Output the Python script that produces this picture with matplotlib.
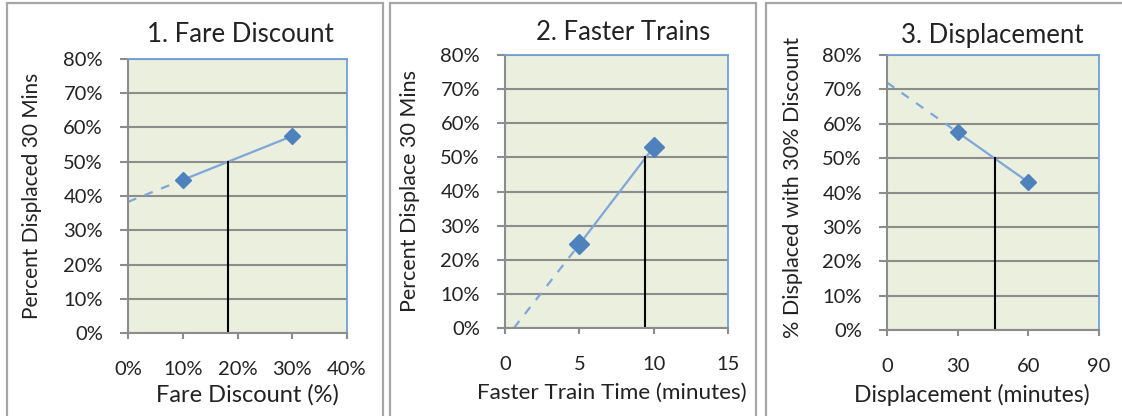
## three small excel-style panels: break-even points for displacement
import matplotlib
matplotlib.use('Agg')
import matplotlib.pyplot as plt
from matplotlib.patches import Rectangle
from matplotlib.ticker import FuncFormatter

plt.rcParams['font.family'] = ['Lato', 'DejaVu Sans']

W, H = 1122, 416

# panel 1 - fare discount
fare_x = [10, 30]
fare_y = [44.7, 57.5]
fare_trend_x = [0, 10]
fare_trend_y = [38.3, 44.7]
fare_cut = 18.3

# panel 2 - faster trains
train_x = [5, 10]
train_y = [24.5, 53.0]
train_trend_x = [0.6, 5]
train_trend_y = [0, 24.5]
train_cut = 9.45

# panel 3 - displacement
disp_x = [30, 60]
disp_y = [57.5, 43.0]
disp_trend_x = [0, 30]
disp_trend_y = [72.0, 57.5]
disp_cut = 45.7

y_ticks = [0, 10, 20, 30, 40, 50, 60, 70, 80]

GRID = '#8c8c8c'
EDGE = '#6f9fd8'
LINE = '#7fa6d9'
MARK = '#4f81bd'
BG = '#ebefde'
TXT = '#222222'

fig = plt.figure(figsize=(W / 100, H / 100), dpi=100)

# panel frames
for left, right in [(7, 383), (390, 756), (766, 1130)]:
    fig.patches.append(Rectangle((left / W, -0.1), (right - left) / W, 1.1 - 3 / H,
                                 transform=fig.transFigure, fill=False,
                                 edgecolor='#a6a6a6', linewidth=1.6))


def px(x, y):
    return x / W, 1 - y / H


def panel(box, xs, ys, tx, ty, cut, xticks, xfmt, title, title_pos, xlabel, xlab_pos,
          xlab_fs, ylabel, ylab_pos, ylab_fs, msize):
    l, r, t, b = box
    ax = fig.add_axes([l / W, 1 - b / H, (r - l) / W, (b - t) / H])
    ax.set_facecolor(BG)
    ax.set_xlim(xticks[0], xticks[-1])
    ax.set_ylim(0, 80)
    ax.set_yticks(y_ticks)
    ax.set_xticks(xticks)
    ax.yaxis.set_major_formatter(FuncFormatter(lambda v, p: '%d%%' % v))
    ax.xaxis.set_major_formatter(FuncFormatter(xfmt))
    ax.grid(axis='y', color=GRID, linewidth=1.5)
    ax.set_axisbelow(True)
    for s in ['left', 'bottom']:
        ax.spines[s].set_color(GRID)
        ax.spines[s].set_linewidth(1.5)
    for s in ['top', 'right']:
        ax.spines[s].set_color(EDGE)
        ax.spines[s].set_linewidth(1.3)
    ax.tick_params(axis='y', direction='out', length=6, width=1.5, color=GRID,
                   pad=12, labelsize=14.5, labelcolor=TXT)
    ax.tick_params(axis='x', direction='out', length=4, width=1.5, color=GRID,
                   pad=16, labelsize=14.5, labelcolor=TXT)

    ax.plot(tx, ty, linestyle='--', dashes=(4, 4), color=LINE, linewidth=1.6)
    ax.plot(xs, ys, linestyle='-', color=LINE, linewidth=1.6)
    ax.plot(xs, ys, linestyle='none', marker='D', markersize=msize, color=MARK)
    ax.plot([cut, cut], [0, 50], color='black', linewidth=1.5)

    fig.text(*px(*title_pos), title, ha='center', va='center', fontsize=18.5, color=TXT)
    fig.text(*px(*xlab_pos), xlabel, ha='center', va='center', fontsize=xlab_fs, color=TXT)
    fig.text(*px(*ylab_pos), ylabel, rotation=90,
             ha='center', va='center', fontsize=ylab_fs, color=TXT)
    return ax


panel((128, 347, 59, 333), fare_x, fare_y, fare_trend_x, fare_trend_y, fare_cut,
      [0, 10, 20, 30, 40], lambda v, p: '%d%%' % v,
      '1. Fare Discount', (240, 35), 'Fare Discount (%)', (247, 395), 17,
      'Percent Displaced 30 Mins', (32, 196), 15, 8)

panel((505, 728, 55, 328), train_x, train_y, train_trend_x, train_trend_y, train_cut,
      [0, 5, 10, 15], lambda v, p: '%d' % v,
      '2. Faster Trains', (623, 33), 'Faster Train Time (minutes)', (612, 393), 16.2,
      'Percent Displace 30 Mins', (410, 191), 15.5, 10)

panel((887, 1099, 55, 330), disp_x, disp_y, disp_trend_x, disp_trend_y, disp_cut,
      [0, 30, 60, 90], lambda v, p: '%d' % v,
      '3. Displacement', (992, 35), 'Displacement (minutes)', (972, 395), 16.5,
      '% Displaced with 30% Discount', (793, 187), 15.5, 8)

fig.savefig('out.png', dpi=100)
